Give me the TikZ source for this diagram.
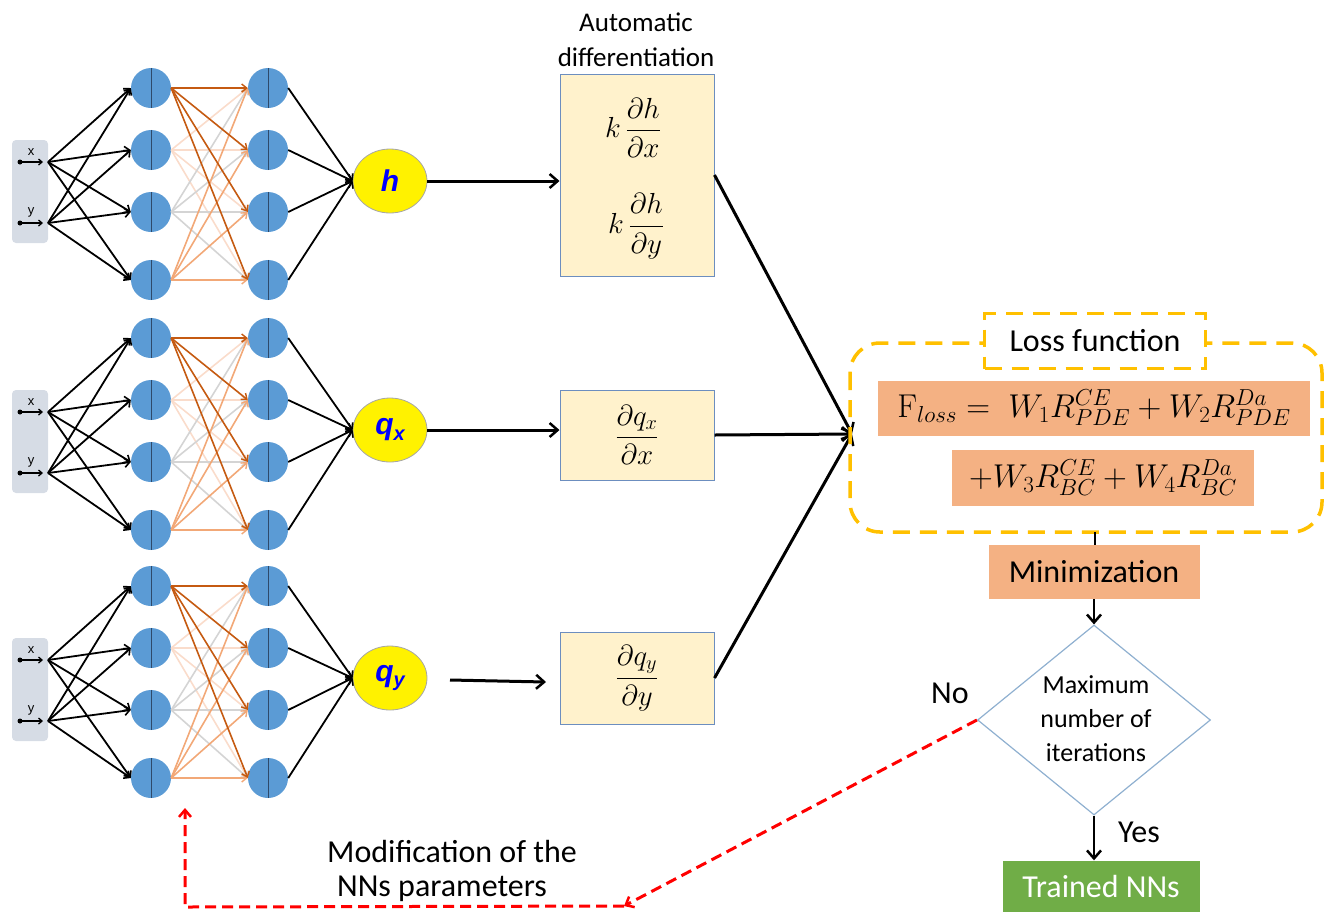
\RequirePackage{fix-cm}
\documentclass[tikz,border=0pt]{standalone}
\usepackage[no-math]{fontspec}
\setmainfont{Carlito}
\newfontfamily\arialf{Liberation Sans}
\usetikzlibrary{shapes.geometric,arrows.meta,calc}
\definecolor{nblue}{HTML}{5B9BD5}
\definecolor{ndark}{HTML}{2E4A6B}
\definecolor{cA}{HTML}{C55A11}
\definecolor{cB}{HTML}{FADCCB}
\definecolor{cC}{HTML}{D4D4D4}
\definecolor{cD}{HTML}{F2A877}
\definecolor{boxfill}{HTML}{FFF2CC}
\definecolor{boxline}{HTML}{6C8EBF}
\definecolor{salmon}{HTML}{F4B183}
\definecolor{gold}{HTML}{FFC000}
\definecolor{ingray}{HTML}{D6DCE5}
\definecolor{dialine}{HTML}{8FB0D0}
\definecolor{tgreen}{HTML}{70AD47}
\begin{document}
\begin{tikzpicture}[x=1pt,y=-1pt,
  neuron/.style={circle,fill=nblue,minimum size=40pt,inner sep=0pt},
  outnode/.style={ellipse,fill=yellow,draw=gray!70,line width=0.8pt,minimum width=74pt,minimum height=64pt,inner sep=0pt,
     font=\arialf\bfseries\itshape\fontsize{30}{30}\selectfont,text=blue},
  wire/.style={black,line width=1.8pt,-{Straight Barb[length=5pt,width=9pt,line width=1.6pt]}},
  hwire/.style={line width=1.6pt,-{Straight Barb[length=5pt,width=8pt,line width=1.4pt]}},
  bigarrow/.style={black,line width=3pt,-{Straight Barb[length=8pt,width=14pt,line width=2.5pt]}},
  dbox/.style={draw=boxline,fill=boxfill,line width=1pt,inner sep=0pt},
  sbox/.style={fill=salmon,inner sep=0pt},
  mathtxt/.style={font=\fontsize{29}{35}\selectfont},
  lbltxt/.style={font=\fontsize{32}{38}\selectfont},
  reddash/.style={red,line width=3pt,dash pattern=on 11pt off 6pt},
  golddash/.style={gold,line width=3.5pt,dash pattern=on 17pt off 10pt}
]
\useasboundingbox (0,0) rectangle (1324,911);

% ---------- three networks ----------
\foreach \n/\o in {1/0,2/250,3/498} {
  \fill[ingray,rounded corners=4pt] (12,{140+\o}) rectangle (48,{243+\o});
  \coordinate (ix\n) at (48,{162+\o});
  \coordinate (iy\n) at (48,{223+\o});
  \coordinate (sx\n) at (20,{162+\o});
  \coordinate (sy\n) at (20,{223+\o});
  \fill (sx\n) circle (2.5pt);
  \fill (sy\n) circle (2.5pt);
  \draw[black,line width=1.3pt,-{Straight Barb[length=3.5pt,width=6pt]}] (sx\n) -- (43,{162+\o});
  \draw[black,line width=1.3pt,-{Straight Barb[length=3.5pt,width=6pt]}] (sy\n) -- (43,{223+\o});
  \node[font=\arialf\fontsize{13}{13}\selectfont] (lx\n) at (31,{152+\o}) {x};
  \node[font=\arialf\fontsize{13}{13}\selectfont] (ly\n) at (31,{212+\o}) {y};
  \foreach \i/\y in {1/88,2/150,3/212,4/280} {
    \node[neuron] (a\n-\i) at (151,{\y+\o}) {};
    \node[neuron] (b\n-\i) at (268,{\y+\o}) {};
    \draw[ndark,line width=1pt] (a\n-\i.north) -- (a\n-\i.south);
    \draw[ndark,line width=1pt] (b\n-\i.north) -- (b\n-\i.south);
  }
  \foreach \i in {1,...,4} {
    \draw[wire] (ix\n) -- (a\n-\i.west);
    \draw[wire] (iy\n) -- (a\n-\i.west);
  }
  \foreach \i/\c in {2/cB,3/cC,4/cD,1/cA} {
    \foreach \j in {1,...,4} {
      \draw[\c,hwire] (a\n-\i.east) -- (b\n-\j.west);
    }
  }
}
\node[outnode] (out1) at (390,181) {h};
\node[outnode] (out2) at (390,430) {q\raisebox{-0.35ex}{\fontsize{20}{20}\selectfont x}};
\node[outnode] (out3) at (390,678) {q\raisebox{-0.35ex}{\fontsize{20}{20}\selectfont y}};
\foreach \n in {1,2,3} {
  \foreach \i in {1,...,4} {
    \draw[wire] (b\n-\i.east) -- (out\n.west);
  }
}

% ---------- derivative boxes ----------
\node[font=\fontsize{27}{32}\selectfont] (ad1) at (636,22) {Automatic};
\node[font=\fontsize{27}{32}\selectfont] (ad2) at (636,57) {differentiation};
\node[dbox,minimum width=154pt,minimum height=202pt] (d1) at (637,175) {};
\node[mathtxt] (f1a) at (633,128) {$\displaystyle k\,\frac{\partial h}{\partial x}$};
\node[mathtxt] (f1b) at (636,226) {$\displaystyle k\,\frac{\partial h}{\partial y}$};
\node[dbox,minimum width=154pt,minimum height=90pt] (d2) at (637,435) {};
\node[mathtxt] (f2) at (637,435) {$\displaystyle \frac{\partial q_x}{\partial x}$};
\node[dbox,minimum width=154pt,minimum height=92pt] (d3) at (637,678) {};
\node[mathtxt] (f3) at (637,678) {$\displaystyle \frac{\partial q_y}{\partial y}$};

\draw[bigarrow] (out1.east) -- (out1.east -| d1.west);
\draw[bigarrow] (out2.east) -- (out2.east -| d2.west);
\coordinate (qs) at (450,680);
\coordinate (qe) at (546,682);
\draw[bigarrow] (qs) -- (qe);

% ---------- loss function ----------
\coordinate (lossin) at (852,434);
\draw[bigarrow] (d1.east) -- (lossin);
\draw[bigarrow] (d2.east) -- (lossin);
\draw[bigarrow] (d3.east) -- (lossin);

\draw[golddash,rounded corners=30pt] (850,343) rectangle (1322,532);
\node[draw=gold,fill=white,line width=3.5pt,dash pattern=on 17pt off 10pt,minimum width=221pt,minimum height=55pt,inner sep=0pt,lbltxt] (lf) at (1095,341) {Loss function};
\node[sbox,minimum width=432pt,minimum height=55pt,font=\fontsize{33}{38}\selectfont] (fa) at (1094,408)
  {$\mathrm{F}_{loss} =\; W_1R^{CE}_{PDE}+W_2R^{Da}_{PDE}$};
\node[sbox,minimum width=302pt,minimum height=56pt,font=\fontsize{33}{38}\selectfont] (fb) at (1103,478)
  {$+W_3R^{CE}_{BC}+W_4R^{Da}_{BC}$};

\node[sbox,minimum width=211pt,minimum height=54pt,lbltxt] (mini) at (1094,572) {Minimization};
\coordinate (lossbot) at (1095,532);
\draw[black,line width=2.5pt] (lossbot) -- (lossbot |- mini.north);
\node[diamond,draw=dialine,line width=1.2pt,minimum width=233pt,minimum height=190pt,inner sep=0pt] (dia) at (1094,720) {};
\node[align=center,font=\fontsize{26}{34}\selectfont] (diatxt) at (1096,719) {Maximum\\number of\\iterations};
\draw[bigarrow,line width=2.5pt] (mini.south -| dia.north) -- (dia.north);
\node[fill=tgreen,minimum width=197pt,minimum height=51pt,inner sep=0pt,text=white,lbltxt] (done) at (1101,886) {Trained NNs};
\draw[bigarrow,line width=2.5pt] (dia.south) -- (dia.south |- done.north);
\node[lbltxt] (no) at (950,693) {No};
\node[lbltxt] (yes) at (1139,832) {Yes};

% ---------- feedback ----------
\coordinate (r1) at (624,906);
\coordinate (r2) at (185,907);
\coordinate (r3) at (185,808);
\draw[reddash,-{Straight Barb[length=7pt,width=12pt,line width=2.5pt]}] (dia.west) -- (r1);
\draw[reddash,-{Straight Barb[length=7pt,width=12pt,line width=2.5pt]}] (r1) -- (r2) -- (r3);
\node[lbltxt] (mod1) at (452,851) {Modification of the};
\node[lbltxt] (mod2) at (442,889) {NNs parameters};
\end{tikzpicture}
\end{document}
